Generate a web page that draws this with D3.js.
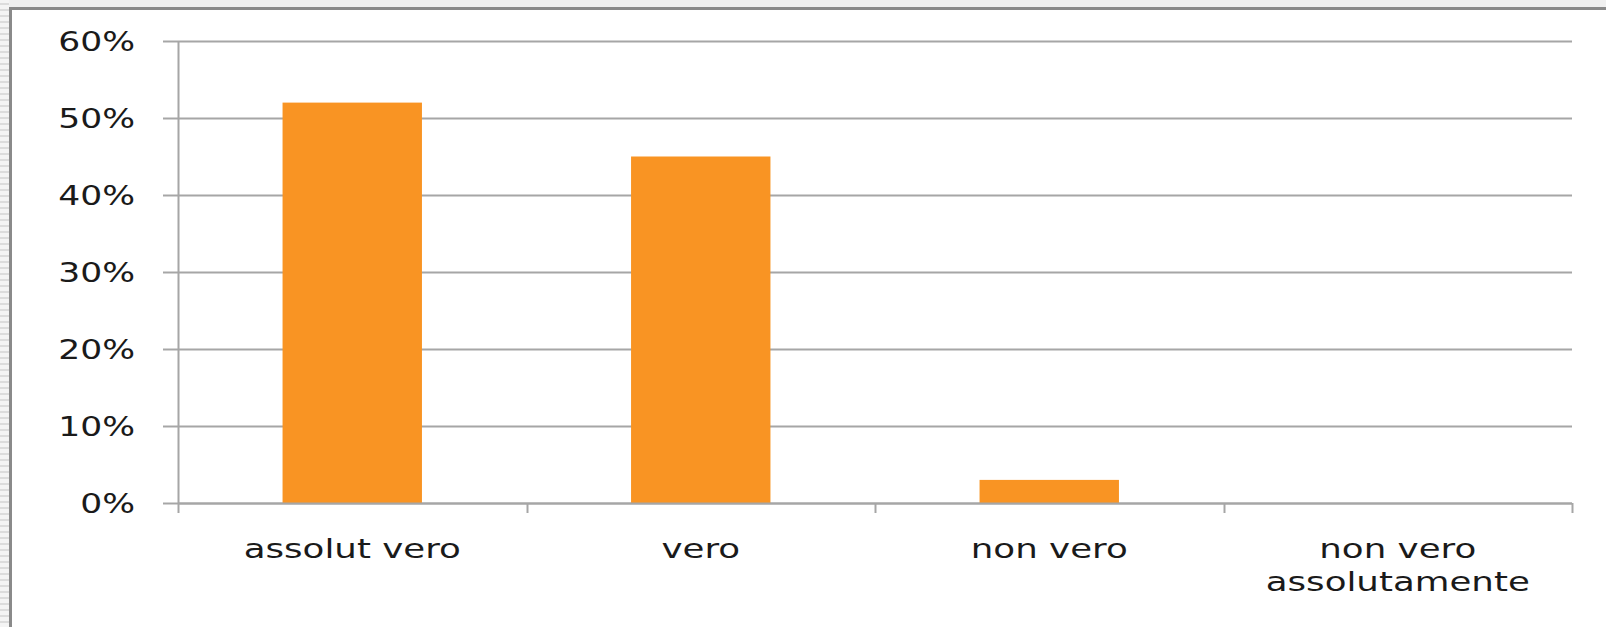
<!DOCTYPE html>
<html>
<head>
<meta charset="utf-8">
<script src="https://cdn.jsdelivr.net/npm/d3@7"></script>
<style>
  html, body { margin: 0; padding: 0; background: #fff; }
  svg { display: block; }
  text { font-family: "DejaVu Sans", Verdana, sans-serif; fill: #1a1a1a; }
</style>
</head>
<body>
<div id="chart"></div>
<script>
const categories = ["assolut vero", "vero", "non vero", "non vero assolutamente"];
const values = [0.52, 0.45, 0.03, 0.0];
const yTicks = [0, 0.1, 0.2, 0.3, 0.4, 0.5, 0.6];

const W = 1606, H = 627;
const plot = { left: 178, right: 1572, top: 41, bottom: 503 };
const stretchY = 1.28;
const stretchX = 1.32;
const fontSize = 27;

const svg = d3.select("#chart").append("svg").attr("width", W).attr("height", H);

// frame background
const defs = svg.append("defs");
const pat = defs.append("pattern").attr("id", "stripes").attr("patternUnits", "userSpaceOnUse")
  .attr("width", 10).attr("height", 6);
pat.append("rect").attr("width", 10).attr("height", 6).attr("fill", "#f4f4f4");
pat.append("rect").attr("y", 3).attr("width", 10).attr("height", 2).attr("fill", "#dcdcdc");
svg.append("rect").attr("x", 0).attr("y", 0).attr("width", W).attr("height", 7).attr("fill", "#f0f0f0");
svg.append("rect").attr("x", 0).attr("y", 0).attr("width", 9).attr("height", H).attr("fill", "url(#stripes)");
svg.append("rect").attr("x", 9).attr("y", 7).attr("width", W - 9).attr("height", 3).attr("fill", "#8a8a8a");
svg.append("rect").attr("x", 9).attr("y", 7).attr("width", 3).attr("height", H - 7).attr("fill", "#8a8a8a");

const y = d3.scaleLinear().domain([0, 0.6]).range([plot.bottom, plot.top]);
const x = d3.scaleBand().domain(categories).range([plot.left, plot.right])
  .paddingInner(0.6).paddingOuter(0.3);

// gridlines
svg.append("g").selectAll("line").data(yTicks).join("line")
  .attr("x1", plot.left).attr("x2", plot.right)
  .attr("y1", d => Math.round(y(d)) + 0.5).attr("y2", d => Math.round(y(d)) + 0.5)
  .attr("stroke", "#a6a6a6").attr("stroke-width", 2);

// bars
svg.append("g").selectAll("rect").data(categories).join("rect")
  .attr("x", d => x(d))
  .attr("width", x.bandwidth())
  .attr("y", (d, i) => y(values[i]))
  .attr("height", (d, i) => y(0) - y(values[i]))
  .attr("fill", "#f99423");

// left axis
const yAxis = d3.axisLeft(y).tickValues(yTicks).tickFormat(d3.format(".0%"))
  .tickSizeInner(15).tickSizeOuter(0);
const gy = svg.append("g").attr("transform", `translate(${plot.left},0)`).call(yAxis);
gy.select(".domain").attr("stroke", "#a6a6a6").attr("stroke-width", 2);
gy.selectAll(".tick line").attr("stroke", "#a6a6a6").attr("stroke-width", 2);
gy.selectAll(".tick text")
  .attr("x", -43 / stretchY)
  .attr("dy", "0.36em")
  .attr("transform", `scale(${stretchY},1)`)
  .style("font-size", fontSize + "px")
  .style("font-family", '"DejaVu Sans", Verdana, sans-serif')
  .attr("fill", "#222");

// bottom axis (labels)
const xAxis = d3.axisBottom(x).tickSize(0).tickPadding(0);
const gx = svg.append("g").attr("transform", `translate(0,${plot.bottom})`).call(xAxis);
gx.select(".domain").remove();
svg.append("line").attr("x1", plot.left).attr("x2", plot.right)
  .attr("y1", plot.bottom + 0.5).attr("y2", plot.bottom + 0.5)
  .attr("stroke", "#a6a6a6").attr("stroke-width", 2);

// category boundary ticks
const half = (x.step() - x.bandwidth()) / 2;
const bounds = categories.map(c => x(c) - half).concat([x(categories[categories.length - 1]) + x.bandwidth() + half]);
svg.append("g").selectAll("line").data(bounds).join("line")
  .attr("x1", d => Math.round(d) + 0.5).attr("x2", d => Math.round(d) + 0.5)
  .attr("y1", plot.bottom).attr("y2", plot.bottom + 10)
  .attr("stroke", "#a6a6a6").attr("stroke-width", 2);

gx.selectAll(".tick text")
  .attr("transform", `scale(${stretchX},1)`)
  .style("font-size", fontSize + "px")
  .style("font-family", '"DejaVu Sans", Verdana, sans-serif')
  .attr("fill", "#222")
  .each(function (d) {
    const t = d3.select(this);
    const words = d.split(" ");
    const maxW = (x.step() - 20) / stretchX;
    t.text(null);
    let lines = [], line = [];
    const probe = t.append("tspan");
    words.forEach(w => {
      const test = line.concat([w]).join(" ");
      probe.text(test);
      if (probe.node().getComputedTextLength() > maxW && line.length) {
        lines.push(line.join(" "));
        line = [w];
      } else line = line.concat([w]);
    });
    lines.push(line.join(" "));
    probe.remove();
    t.attr("y", 0).attr("dy", null);
    lines.forEach((l, i) => {
      t.append("tspan").attr("x", 0).attr("y", 55 + i * 33).text(l);
    });
  });
</script>
</body>
</html>
